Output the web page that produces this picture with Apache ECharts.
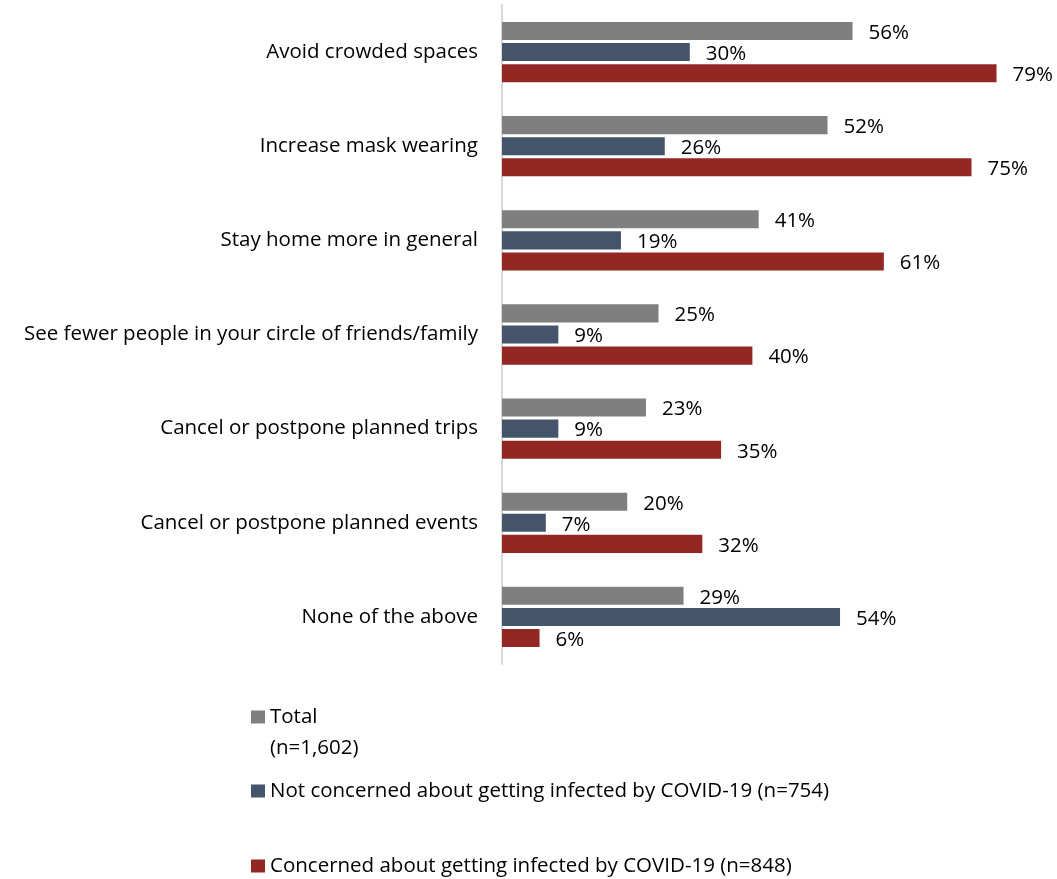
<!DOCTYPE html>
<html><head><meta charset="utf-8">
<script src="https://cdn.jsdelivr.net/npm/echarts@6/dist/echarts.min.js"></script>
<style>html,body{margin:0;padding:0;background:#fff}#c{width:1057px;height:879px}</style>
</head><body><div id="c"></div>
<script>
const categories = ["Avoid crowded spaces","Increase mask wearing","Stay home more in general","See fewer people in your circle of friends/family","Cancel or postpone planned trips","Cancel or postpone planned events","None of the above"];
const seriesNames = ["Total","Not concerned about getting infected by COVID-19 (n=754)","Concerned about getting infected by COVID-19 (n=848)"];
const totalSampleNote = "(n=1,602)";
const totalValues = [56,52,41,25,23,20,29];
const notConcernedValues = [30,26,19,9,9,7,54];
const concernedValues = [79,75,61,40,35,32,6];
const colors = ["#7f7f7f","#44546a","#922724"];
const FONT = "Open Sans";
const FS = 20.5;

const chart = echarts.init(document.getElementById('c'));
const mk = (name, data, color) => ({
  name, type:'bar', data, barGap:'17%', barCategoryGap:'36%',
  itemStyle:{color},
  label:{show:true, position:'right', distance:16, formatter:'{c}%', color:'#000', fontFamily:FONT, fontSize:FS, offset:[0,2]}
});
const legendBase = (i, top) => ({
  data:[seriesNames[i]], left:246, top, orient:'vertical', icon:'rect', itemWidth:14, itemHeight:13, itemGap:8,
  selectedMode:false,
  textStyle:{fontFamily:FONT, fontSize:FS, color:'#000', lineHeight:24}
});
chart.setOption({
  animation:false,
  grid:{left:502, top:5, width:500.8, height:659, containLabel:false},
  xAxis:{type:'value', min:0, max:80, show:false},
  yAxis:{type:'category', data:categories, inverse:true,
    axisLine:{show:true, lineStyle:{color:'#d9d9d9', width:2}},
    axisTick:{show:false},
    axisLabel:{fontFamily:FONT, fontSize:FS, color:'#000', margin:24}},
  legend:[legendBase(0, 700), legendBase(1, 774), legendBase(2, 849)],
  graphic:[{type:'text', left:270, top:738, style:{text:totalSampleNote, fontFamily:FONT, fontSize:FS, fill:'#000'}}],
  series:[mk(seriesNames[0], totalValues, colors[0]), mk(seriesNames[1], notConcernedValues, colors[1]), mk(seriesNames[2], concernedValues, colors[2])]
});
</script></body></html>
